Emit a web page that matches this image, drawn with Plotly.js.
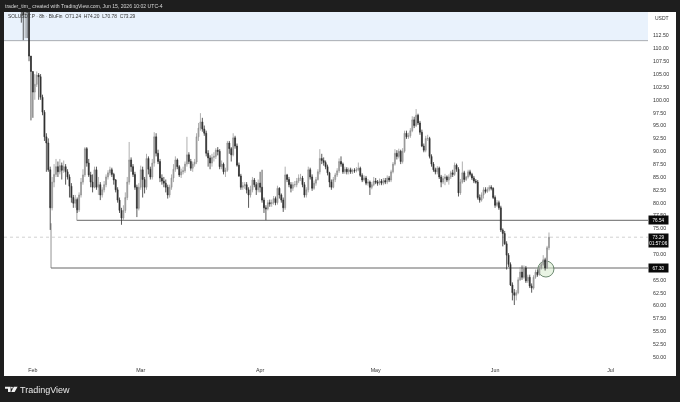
<!DOCTYPE html>
<html>
<head>
<meta charset="utf-8">
<script src="https://cdn.plot.ly/plotly-3.0.1.min.js"></script>
<style>html,body{margin:0;padding:0;background:#1e1e1e;overflow:hidden}#c{width:680px;height:402px;filter:blur(0.3px)}</style>
</head>
<body>
<div id="c"></div>
<script>
// 12-hourly closes, starting 2026-01-29
const closes = [
118,116.5,118,117,108.5,105.5,101.5,103,104.8,104.5,
100.5,97.6,92.8,91.6,86.4,79,84,85.5,87,86,
87.2,86.3,87,86,85,83.2,81,79.9,80.6,78.6,
81.5,84,85.4,90.5,87.7,85.4,84,83,86.4,83,
83.5,81.5,82.5,83.5,85,85.8,86.4,85.5,84.4,82.5,
80.5,78.5,77,78.5,81,84,88.3,87,85.5,83,
78.9,83,86.4,84.5,83,88.6,86.5,85,87.7,92.8,
89.6,88,84.8,84.2,83.8,83,81.5,83,84.8,86.5,
88.3,87,85.4,86,86.2,87.5,89.3,88,86.7,87.5,
87.9,92.8,94.5,95.7,94.3,93.5,89.6,88.7,87.7,88.8,
89,90.2,90,87,87.5,86,86.3,91.6,90.5,89.3,
92.6,91,87.3,85.2,83,83.3,83.5,82.5,81.5,82.5,
84.4,83.5,82.5,83.8,83,80.5,79,78.8,80,79.8,
80,80.8,80,82.8,81.5,80.5,79,85.4,84.5,83.5,
82.8,83.5,83.5,84.2,84.8,84.8,83.5,81.5,82.5,86.4,
85,82.8,83.8,84.5,86,88.6,88.2,87.8,87,85.8,
84,83,84.5,85.4,86.2,88,87.5,86,86.5,86,
86.4,86,86.3,86.2,86.4,86.7,85.3,84.4,84.8,83.8,
84,83,83.5,84.2,84,83.8,84.2,83.8,84.3,84,
84.8,84.4,86,87.5,89.6,89,90,88,90,93.5,
92.8,93,94,96.1,95,97,95.5,93.7,91,90.2,
92.5,92.5,89,87.5,86.4,86,86.7,85,84,84.7,
85,84.4,85,85.8,85.5,87.3,86.5,81.9,84,85.8,
84.5,85,86,85.5,84.8,84.2,84,81,80.5,81.5,
82.5,82.2,82.6,83,82.8,81,79.5,80,79,74.7,
74,72,69.8,68,64,62.5,62,62.5,65,66.5,
65.5,67.3,64.8,65.5,63.8,63.4,65.5,66.5,66,67.3,
68,68.9,67.3,71.24,73.29];
const highs = [
119,118.5,119,119,117.5,108.5,105.5,105,105.5,105.2,
105,101,98,93.5,92.5,87,85,87.5,88.5,88,
88.5,87.8,88.2,87.5,86.5,85.5,83.8,81.5,81.5,81,
82,84.8,86.5,90.8,90.8,88.5,86,85.5,87,87,
85,84,83,84.2,85.5,86.3,87,86.8,85.8,84.6,
83,81,79,79.5,82,85,91.8,88.8,87.5,86,
83.5,83.8,87.2,87,85,89.5,89,87,88.5,93.7,
93.5,90.3,88.5,85.5,85,84.5,83.5,83.5,85.5,87.5,
89,88.6,87.3,86.6,87,88,92.8,89.8,88.5,88,
88.5,93.5,95.5,97.4,96.5,95,94,90.2,89.2,89.5,
89.8,90.6,90.8,90.4,88.2,87.8,86.8,92,92,90.8,
93.5,93,91.5,87.8,85.6,84,84,84,83,83.3,
85,84.8,84,84.5,86,86.4,81,79.5,80.5,80.6,
80.6,81.3,81.2,83.3,83,81.8,81,87,85.6,85,
84,84,84.2,84.8,85.5,85.6,85.2,84,83,87,
86.8,85.5,84.3,85,86.5,90.4,89.5,88.8,88.2,87.4,
86,84.5,85,85.8,86.7,88.6,89,87.8,87,86.9,
86.8,86.8,86.6,86.7,86.9,87.8,87,85.7,85.3,85.2,
84.6,84.3,84,85,84.8,84.4,84.7,84.6,84.8,84.8,
85.3,85.2,86.4,87.9,90.4,90.2,90.5,90.3,90.6,94,
94,93.6,94.5,96.8,96.7,98.2,97.3,95.9,94.2,91.5,
93,93.2,92.8,89.4,87.9,86.8,87.1,87,85.4,85.2,
85.6,85.3,85.5,86.2,86.4,87.8,87.6,86.9,84.6,88,
86.2,85.2,86.4,86.4,85.8,85.2,84.6,84.4,81.6,82,
83,83,83,83.4,83.4,83,81.4,80.5,80.4,79.4,
75,74.5,72.5,70.2,68.4,64.5,63.2,63,65.5,67.5,
67.8,67.8,67.7,66,66,64.3,65.9,67,67,67.7,
68.5,69.8,69.3,71.6,74.2];
const lows = [
115,111.6,112,112,107.5,96,96.5,100,102.5,100,
100,97,92,86,86,74.7,78.5,83,85,85,
85.5,84.5,85.8,83.5,84.5,81,80,79,79,78,
78.2,81,83.5,85,87,85,83,82,82.8,82.5,
81.5,80.5,81,82,83,84.5,85.3,85,83.5,82,
80,78,75.7,76.5,78,80.5,83.5,86,85,82.5,
77.2,78.5,82.5,81,81.8,82.5,85.5,84.5,84.5,87,
89,87.5,84,83.5,83,82,80.8,81,82.5,84,
86,86.5,85,84.8,85.5,85.8,87,87.5,86.2,86,
87,87.5,92,94,93.8,93,89,87,86.5,87,
88,88.5,89.2,86.5,86.5,85.5,85,86,89.5,88,
89,90.5,87,85,82.5,82.5,82.7,81.8,79,81,
82,83,81.5,82,82,80,78,76.6,78.5,79.2,
79.2,79.6,79.5,79.6,80.8,80,78.2,78.6,84,83,
82,82.3,83,83,83.8,84.2,83,81,81,82,
84.5,82.3,82.5,83.3,84.3,85.5,87.5,87.2,86.5,85.3,
83,82.5,82.8,84,85,85.8,87,85.6,85.6,85.5,
85.5,85.6,85.6,85.8,85.9,86.1,85,84,84.1,83.4,
83.3,81.5,82.6,83.2,83.6,83.3,83.4,83.4,83.4,83.6,
83.6,84,84,85.7,87.2,88.4,88.6,87.5,87.6,89.7,
92.4,92.4,92.6,93.7,94.5,94.7,95.1,93.2,90.8,89.8,
89.8,92,88.6,87,86,85.5,85.5,84.6,83,83.6,
83.4,84,83.5,84.6,85,85.2,86,81.2,81.5,83.7,
84,84.2,84.7,85.1,84.4,83.8,83.7,80.6,80,80.2,
80.8,81.8,81.9,82.2,82.4,80.7,79,79.2,78.6,74.3,
71.5,71.8,67,67.5,63.8,61,60.1,61,62.2,64.8,
65,65.2,64.4,64.4,63.4,62.5,63.1,65.2,65.6,65.8,
67,67.6,66.8,67.1,70.78];
const lastOpen = 71.24;
const priceTicks = [50,52.5,55,57.5,60,62.5,65,70,75,77.5,80,82.5,85,87.5,90,92.5,95,97.5,100,102.5,105,107.5,110,112.5];
const monthTicks = ['2026-02-01','2026-03-01','2026-04-01','2026-05-01','2026-06-01','2026-07-01'];
const monthLabels = ['Feb','Mar','Apr','May','Jun','Jul'];
const upperLevel = 76.54, lowerLevel = 67.30, lastPrice = 73.29, bandFloor = 111.5;

const dates = closes.map((_, i) => new Date(Date.UTC(2026,0,29) + i*43200000).toISOString());
const opens = closes.map((_, i) => i === 0 ? 120 : (i === closes.length-1 ? lastOpen : closes[i-1]));

// pixel helpers for page furniture (plot box: x 4..648, y 12..363)
const px = x => (x-4)/644, py = y => (363-y)/351;
const ax = (text,x,y,size,color,extra) => Object.assign({xref:'paper',yref:'paper',x:px(x),y:py(y),text,showarrow:false,
  xanchor:'left',yanchor:'middle',font:{family:'Liberation Sans, Arial, sans-serif',size,color}},extra||{});
const tag = (text,price,shift,h) => ({xref:'paper',yref:'y',x:1,y:price,yshift:shift,xanchor:'left',yanchor:'middle',showarrow:false,
  text,bgcolor:'#0a0a0a',width:19,height:h,borderpad:0,font:{family:'Liberation Sans, Arial, sans-serif',size:4.6,color:'#fff'}});
const lp = pts => pts.map((p,i)=>(i?'L':'M')+px(p[0])+','+py(p[1])).join(' ')+' Z';

const shapes = [
 {type:'rect',xref:'paper',yref:'paper',x0:0,x1:px(676),y0:py(376),y1:1,fillcolor:'#fff',line:{width:0},layer:'below'},
 {type:'rect',xref:'paper',yref:'y',x0:0,x1:1,y0:bandFloor,y1:117.1,fillcolor:'#e9f2fc',line:{width:0},layer:'below'},
 {type:'line',xref:'paper',yref:'y',x0:0,x1:1,y0:bandFloor,y1:bandFloor,line:{color:'#a9adb3',width:1},layer:'below'},
 {type:'line',xref:'paper',yref:'y',x0:0,x1:1,y0:lastPrice,y1:lastPrice,line:{color:'#a0a0a0',width:0.5,dash:'dot'},layer:'below'},
 {type:'line',xref:'x',yref:'y',x0:'2026-02-12 10:00',x1:'2026-07-10 17:00',y0:upperLevel,y1:upperLevel,line:{color:'#858585',width:1.2},layer:'below'},
 {type:'line',xref:'x',yref:'y',x0:'2026-02-12 10:00',x1:'2026-02-12 10:00',y0:upperLevel,y1:78.6,line:{color:'#8f8f8f',width:0.8},layer:'below'},
 {type:'line',xref:'x',yref:'y',x0:'2026-02-05 17:00',x1:'2026-07-10 17:00',y0:lowerLevel,y1:lowerLevel,line:{color:'#666',width:1},layer:'below'},
 {type:'line',xref:'x',yref:'y',x0:'2026-02-05 17:00',x1:'2026-02-05 17:00',y0:lowerLevel,y1:76,line:{color:'#777',width:0.8},layer:'below'},
 {type:'circle',xref:'x',yref:'y',xsizemode:'pixel',ysizemode:'pixel',xanchor:'2026-06-14 05:00',yanchor:67.1,x0:-8,x1:8,y0:-8,y1:8,
  fillcolor:'rgba(215,235,205,0.55)',line:{color:'#4d6f52',width:0.8},layer:'below'},
 // TradingView mark
 {type:'path',xref:'paper',yref:'paper',path:lp([[5,386.7],[10.6,386.7],[10.6,392],[8,392],[8,388.8],[5,388.8]]),fillcolor:'#f2f2f2',line:{width:0}},
 {type:'circle',xref:'paper',yref:'paper',x0:px(11),x1:px(12.8),y0:py(388.6),y1:py(386.8),fillcolor:'#f2f2f2',line:{width:0}},
 {type:'path',xref:'paper',yref:'paper',path:lp([[13.8,386.7],[17.6,386.7],[14.6,392],[11.2,392]]),fillcolor:'#f2f2f2',line:{width:0}}
];

const annotations = [
 ax('trader_tim_ created with TradingView.com, Jun 15, 2026 10:02 UTC-4',2.5,6,5.1,'#d8d8d8'),
 ax('SOLUSDT.P · 8h · BluFin  O71.24  H74.20  L70.78  C73.29',5.5,17,4.85,'#333'),
 ax('USDT',653,18.5,5,'#333'),
 ax('TradingView',18,389.5,9,'#e8e8e8'),
 tag('76.54',upperLevel,0,8),
 tag('73.29<br>01:57:06',lastPrice,-3,13),
 tag('67.30',lowerLevel,0,8)
];

Plotly.newPlot('c',[{
  type:'candlestick',x:dates,open:opens,high:highs,low:lows,close:closes,
  increasing:{line:{color:'#8e8e8e',width:0.7},fillcolor:'#a8a8a8'},
  decreasing:{line:{color:'#303030',width:0.8},fillcolor:'#222'},
  whiskerwidth:0,hoverinfo:'skip'
}],{
  width:680,height:402,showlegend:false,
  margin:{l:4,r:32,t:12,b:39,pad:0},
  paper_bgcolor:'#1e1e1e',plot_bgcolor:'rgba(0,0,0,0)',boxgap:0.3,
  xaxis:{type:'date',range:['2026-01-24 12:00','2026-07-10 17:00'],rangeslider:{visible:false},showgrid:false,zeroline:false,
    showline:false,ticks:'',tickmode:'array',tickvals:monthTicks,ticktext:monthLabels,tickangle:0,
    tickfont:{family:'Liberation Sans, Arial, sans-serif',size:5.3,color:'#333'},ticklabelstandoff:3},
  yaxis:{side:'right',range:[48.83,117.07],showgrid:false,zeroline:false,showline:false,ticks:'',tickmode:'array',
    tickvals:priceTicks,ticktext:priceTicks.map(v=>v.toFixed(2)),
    tickfont:{family:'Liberation Sans, Arial, sans-serif',size:5.3,color:'#333'},ticklabelstandoff:4},
  shapes,annotations
},{staticPlot:true,displayModeBar:false});
</script>
</body>
</html>
